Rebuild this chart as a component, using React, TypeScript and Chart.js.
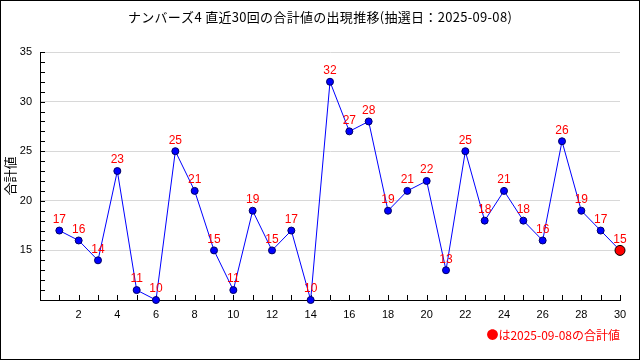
import React, { useEffect, useRef } from "react";
import { Chart, registerables } from "chart.js";

Chart.register(...registerables);

const draws = [1, 2, 3, 4, 5, 6, 7, 8, 9, 10, 11, 12, 13, 14, 15, 16, 17, 18, 19, 20, 21, 22, 23, 24, 25, 26, 27, 28, 29, 30];
const sums = [17, 16, 14, 23, 11, 10, 25, 21, 15, 11, 19, 15, 17, 10, 32, 27, 28, 19, 21, 22, 13, 25, 18, 21, 18, 16, 26, 19, 17, 15];
const titleText = "ナンバーズ4 直近30回の合計値の出現推移(抽選日：2025-09-08)";
const yAxisTitle = "合計値";
const noteText = "●は2025-09-08の合計値";
const xMin = 0;
const xMax = 30;
const yMin = 10;
const yMax = 35;

const JP = '"Noto Sans CJK JP", sans-serif';
const NUM = '"Liberation Sans", Arial, sans-serif';

export default function App() {
  const ref = useRef<HTMLCanvasElement | null>(null);

  useEffect(() => {
    const canvas = ref.current;
    if (!canvas) return;
    const last = sums.length - 1;

    const decor = {
      id: "decor",
      beforeDraw(chart: any) {
        const ctx = chart.ctx;
        ctx.save();
        ctx.fillStyle = "#ffffff";
        ctx.fillRect(0, 0, chart.width, chart.height);
        ctx.restore();
      },
      beforeDatasetsDraw(chart: any) {
        const ctx = chart.ctx;
        const a = chart.chartArea;
        const xs = chart.scales.x;
        const ys = chart.scales.y;
        ctx.save();
        ctx.strokeStyle = "#000000";
        ctx.lineWidth = 1;
        ctx.beginPath();
        for (let v = xMin; v <= xMax; v++) {
          const px = Math.round(xs.getPixelForValue(v)) + 0.5;
          ctx.moveTo(px, a.bottom);
          ctx.lineTo(px, a.bottom - 5);
        }
        for (let v = yMin; v <= yMax; v++) {
          const py = Math.round(ys.getPixelForValue(v)) + 0.5;
          ctx.moveTo(a.left, py);
          ctx.lineTo(a.left + 5, py);
        }
        ctx.stroke();
        ctx.restore();
      },
      afterDatasetsDraw(chart: any) {
        const ctx = chart.ctx;
        const meta = chart.getDatasetMeta(0);
        ctx.save();
        ctx.fillStyle = "#ff0000";
        ctx.font = `12px ${NUM}`;
        ctx.textAlign = "center";
        ctx.textBaseline = "middle";
        meta.data.forEach((pt: any, i: number) => {
          ctx.fillText(String(sums[i]), pt.x, pt.y - 11);
        });
        ctx.restore();
      },
      afterDraw(chart: any) {
        const ctx = chart.ctx;
        const a = chart.chartArea;
        ctx.save();
        ctx.fillStyle = "#000000";
        ctx.font = `13px ${JP}`;
        ctx.textAlign = "center";
        ctx.textBaseline = "middle";
        try {
          (ctx as any).letterSpacing = "0.3px";
        } catch (e) {}
        ctx.fillText(titleText, chart.width / 2, 17);
        try {
          (ctx as any).letterSpacing = "0px";
        } catch (e) {}
        ctx.save();
        ctx.translate(10, (a.top + a.bottom) / 2);
        ctx.rotate(-Math.PI / 2);
        ctx.fillText(yAxisTitle, 0, 0);
        ctx.restore();
        ctx.fillStyle = "#ff0000";
        ctx.font = `12px ${JP}`;
        ctx.textAlign = "right";
        ctx.fillText(noteText, a.right, 335);
        ctx.strokeStyle = "#000000";
        ctx.lineWidth = 1;
        ctx.strokeRect(0.5, 0.5, chart.width - 1, chart.height - 1);
        ctx.restore();
      },
    };

    const chart = new Chart(canvas, {
      type: "line",
      data: {
        datasets: [
          {
            data: draws.map((d, i) => ({ x: d, y: sums[i] })),
            borderColor: "#0000ff",
            borderWidth: 1,
            tension: 0,
            clip: false as any,
            pointRadius: sums.map((_, i) => (i === last ? 5 : 3.5)),
            pointBackgroundColor: sums.map((_, i) => (i === last ? "#ff0000" : "#0000ff")),
            pointBorderColor: sums.map((_, i) => (i === last ? "#000000" : "#000066")),
            pointBorderWidth: 1,
          },
        ],
      },
      options: {
        responsive: false,
        animation: false,
        devicePixelRatio: 1,
        layout: { padding: { left: 0, right: 20, top: 52, bottom: 0 } },
        plugins: { legend: { display: false }, tooltip: { enabled: false }, title: { display: false } },
        scales: {
          x: {
            type: "linear",
            min: xMin,
            max: xMax,
            afterFit: (s: any) => {
              s.height = 60;
            },
            ticks: {
              stepSize: 2,
              autoSkip: false,
              maxRotation: 0,
              padding: 8,
              color: "#000000",
              font: { size: 11, family: NUM },
              callback: (v: any) => (v === xMin ? "" : String(v)),
            },
            grid: { display: false, drawTicks: false },
            border: { display: true, color: "#000000", width: 1 },
          },
          y: {
            type: "linear",
            min: yMin,
            max: yMax,
            afterFit: (s: any) => {
              s.width = 40;
            },
            ticks: {
              stepSize: 5,
              padding: 8,
              color: "#000000",
              font: { size: 11, family: NUM },
              callback: (v: any) => (v === yMin ? "" : String(v)),
            },
            grid: { color: "#d8d8d8", drawTicks: false },
            border: { display: true, color: "#000000", width: 1 },
          },
        },
      },
      plugins: [decor],
    } as any);

    return () => chart.destroy();
  }, []);

  return (
    <div style={{ position: "absolute", left: 0, top: 0, width: 640, height: 360 }}>
      <canvas ref={ref} width={640} height={360} style={{ display: "block", width: 640, height: 360 }} />
    </div>
  );
}
